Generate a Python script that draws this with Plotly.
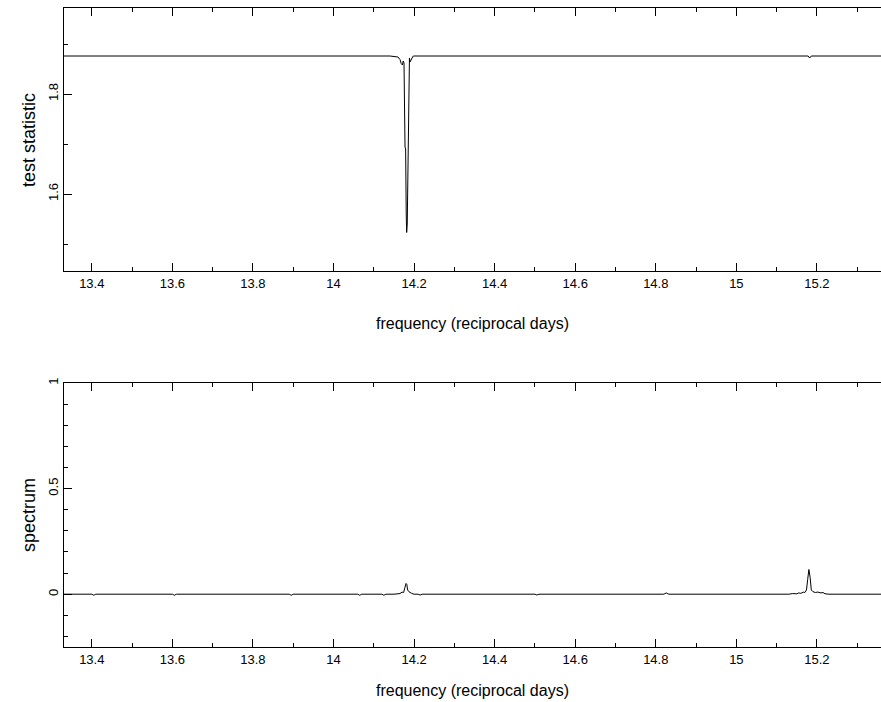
import plotly.graph_objects as go

# ---- data ----
stat_freq = [13.331, 14.140, 14.160, 14.165, 14.168, 14.171, 14.173, 14.175, 14.1775,
             14.179, 14.1805, 14.1816, 14.1830, 14.1845, 14.1856, 14.187, 14.1885,
             14.190, 14.192, 14.195, 14.198, 14.210, 15.178, 15.182, 15.186, 15.359]
stat_vals = [1.876, 1.876, 1.874, 1.869, 1.861, 1.858, 1.866, 1.862, 1.694,
             1.690, 1.560, 1.523, 1.540, 1.662, 1.668, 1.780, 1.872,
             1.864, 1.868, 1.872, 1.876, 1.876, 1.876, 1.872, 1.876, 1.876]

spec_freq = [13.331, 13.400, 13.405, 13.410, 13.600, 13.605, 13.610, 13.890, 13.895, 13.900,
             14.060, 14.065, 14.070, 14.120, 14.125, 14.130, 14.150, 14.160, 14.165, 14.170,
             14.174, 14.177, 14.180, 14.182, 14.184, 14.187, 14.190, 14.194, 14.200, 14.210,
             14.215, 14.220, 14.500, 14.505, 14.510, 14.820, 14.826, 14.832, 15.130, 15.140,
             15.150, 15.155, 15.160, 15.166, 15.170, 15.174, 15.177, 15.180, 15.183, 15.186,
             15.190, 15.196, 15.202, 15.210, 15.215, 15.220, 15.230, 15.359]
spec_vals = [0.000, 0.000, -0.005, 0.000, 0.000, -0.005, 0.000, 0.000, -0.005, 0.000,
             0.000, -0.005, 0.000, 0.000, -0.005, 0.000, 0.000, 0.004, 0.003, 0.010,
             0.008, 0.030, 0.051, 0.046, 0.020, 0.012, 0.008, 0.004, 0.000, 0.000,
             -0.004, 0.000, 0.000, -0.004, 0.000, 0.000, 0.006, 0.000, 0.000, 0.003,
             0.002, 0.006, 0.004, 0.010, 0.008, 0.020, 0.070, 0.117, 0.080, 0.020,
             0.012, 0.008, 0.010, 0.006, 0.008, 0.002, 0.000, 0.000]

x_range = [13.331, 15.359]
stat_range = [1.446, 1.972]
spec_range = [-0.25, 1.0]

xtick_vals = [13.4, 13.6, 13.8, 14.0, 14.2, 14.4, 14.6, 14.8, 15.0, 15.2]
xtick_text = ["13.4", "13.6", "13.8", "14", "14.2", "14.4", "14.6", "14.8", "15", "15.2"]

fig = go.Figure()
fig.add_trace(go.Scatter(x=stat_freq, y=stat_vals, mode="lines",
                         line=dict(color="black", width=1), xaxis="x", yaxis="y"))
fig.add_trace(go.Scatter(x=spec_freq, y=spec_vals, mode="lines",
                         line=dict(color="black", width=1), xaxis="x2", yaxis="y2"))

font = dict(family="Liberation Sans, Arial, sans-serif", size=13, color="black")

xcommon = dict(range=x_range, tickmode="array", tickvals=xtick_vals, ticktext=xtick_text,
               ticks="inside", ticklen=8, tickwidth=1, tickcolor="black",
               showline=True, linecolor="black", linewidth=1, mirror="ticks",
               showgrid=False, zeroline=False, tickfont=font,
               minor=dict(ticks="inside", ticklen=4, tickcolor="black", dtick=0.1,
                          tick0=13.3, showgrid=False))
ycommon = dict(ticks="inside", ticklen=8, tickwidth=1, tickcolor="black",
               showline=True, linecolor="black", linewidth=1, mirror=False,
               showgrid=False, zeroline=False, tickfont=font, tickangle=-90)

H = 639.0
top_dom = [(647 - 271) / H, 1.0]
bot_dom = [0.0, (647 - 383) / H]

fig.update_layout(
    width=881, height=702,
    margin=dict(l=64, r=0, t=8, b=55),
    paper_bgcolor="white", plot_bgcolor="white",
    showlegend=False,
    xaxis=dict(xcommon, domain=[0, 1], anchor="y"),
    yaxis=dict(ycommon, domain=top_dom, range=stat_range, anchor="x",
               tickvals=[1.6, 1.8], ticktext=["1.6", "1.8"],
               minor=dict(ticks="inside", ticklen=4, tickcolor="black", dtick=0.1,
                          tick0=1.4, showgrid=False)),
    xaxis2=dict(xcommon, domain=[0, 1], anchor="y2"),
    yaxis2=dict(ycommon, domain=bot_dom, range=spec_range, anchor="x2",
                tickvals=[0, 0.5, 1.0], ticktext=["0", "0.5", "1"],
                minor=dict(ticks="inside", ticklen=4, tickcolor="black", dtick=0.1,
                           tick0=0, showgrid=False)),
)

tfont = dict(family="Liberation Sans, Arial, sans-serif", size=16, color="black")
yfont = dict(family="Liberation Sans, Arial, sans-serif", size=18, color="black")
W = 817.0
def px(x):
    return (x - 64) / W
def py(y):
    return (647 - y) / H

fig.add_annotation(text="frequency (reciprocal days)", xref="paper", yref="paper",
                   x=px(472), y=py(323), showarrow=False, font=tfont,
                   xanchor="center", yanchor="middle")
fig.add_annotation(text="frequency (reciprocal days)", xref="paper", yref="paper",
                   x=px(472), y=py(690), showarrow=False, font=tfont,
                   xanchor="center", yanchor="middle")
fig.add_annotation(text="test statistic", xref="paper", yref="paper",
                   x=px(29), y=py(140), showarrow=False, font=yfont, textangle=-90,
                   xanchor="center", yanchor="middle")
fig.add_annotation(text="spectrum", xref="paper", yref="paper",
                   x=px(29), y=py(515), showarrow=False, font=yfont, textangle=-90,
                   xanchor="center", yanchor="middle")

fig.write_html("out.html")
